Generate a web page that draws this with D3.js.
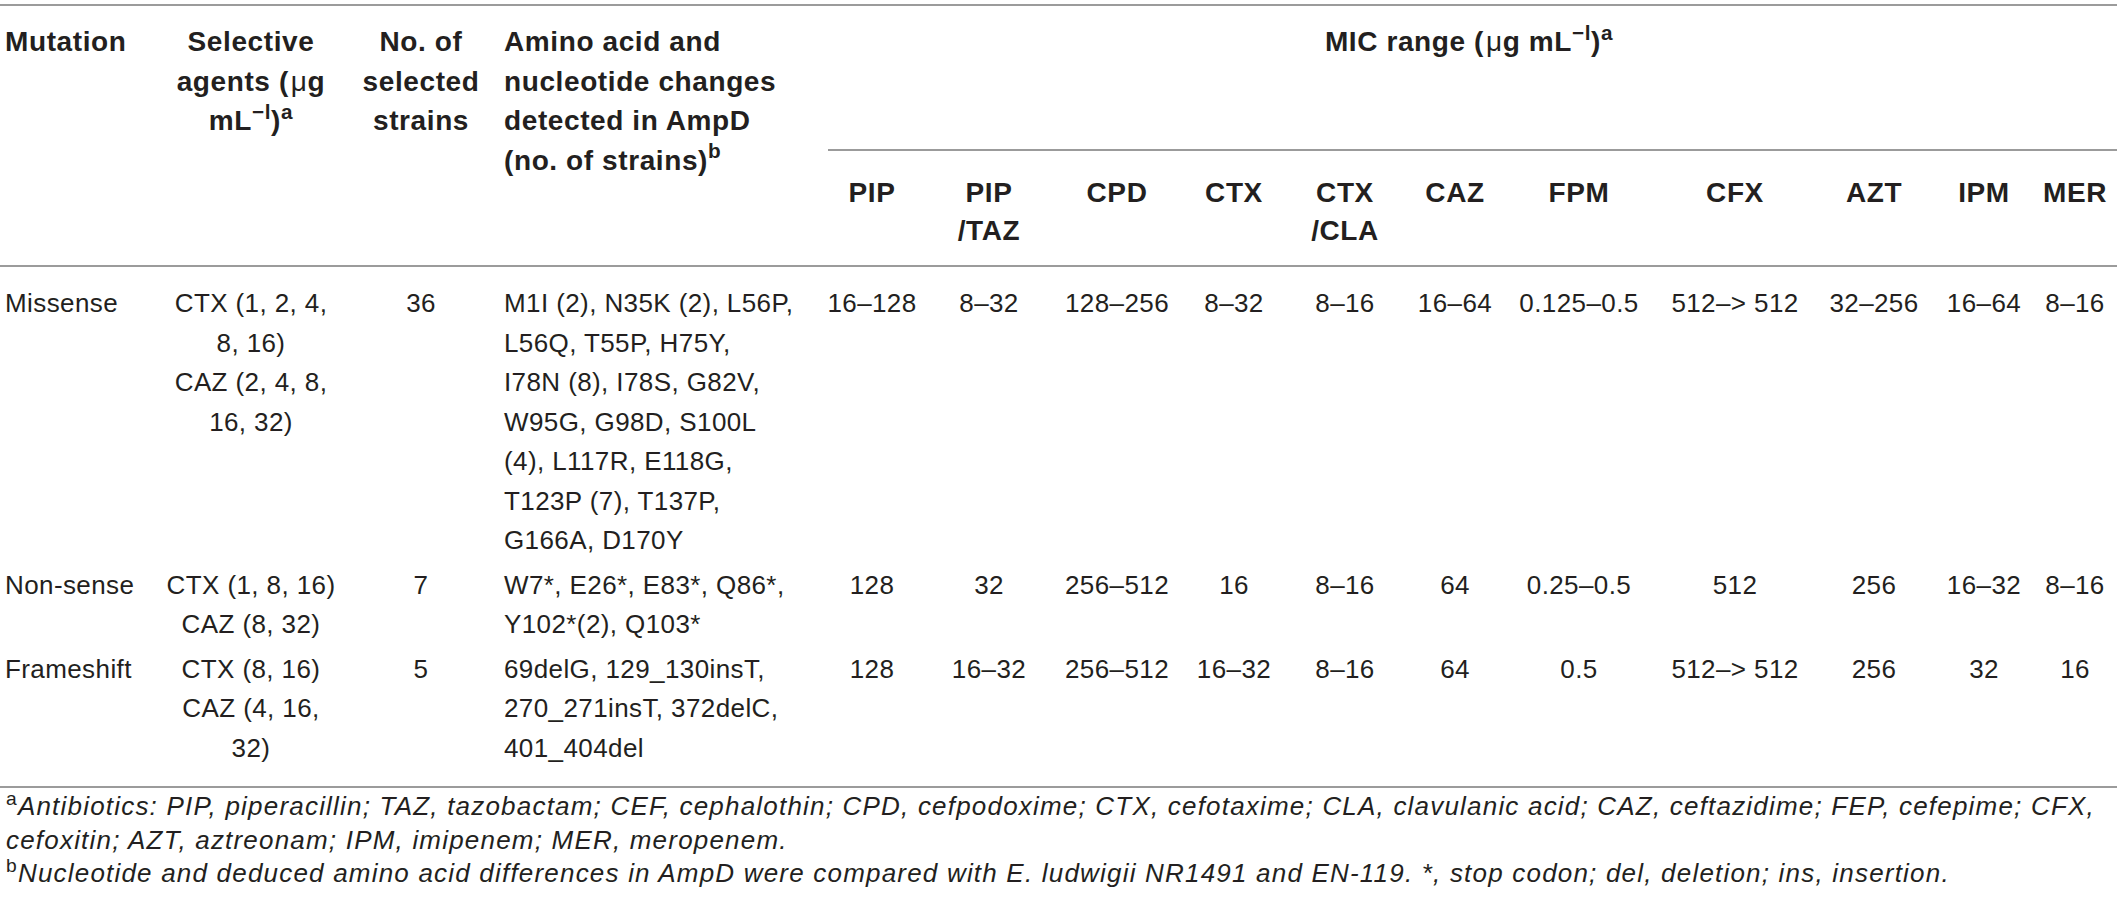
<!DOCTYPE html>
<html>
<head>
<meta charset="utf-8">
<script src="https://cdn.jsdelivr.net/npm/d3@7"></script>
<style>
    body { margin: 0; background: #fff; }
    svg { display: block; }
    text { font-family: "Liberation Sans", Arial, sans-serif; fill: #231f20; }
</style>
</head>
<body>
<svg id="table"></svg>
<script>
// ---- table content ----
const mutations = ["Missense", "Non-sense", "Frameshift"];
const selectiveAgents = [
    ["CTX (1, 2, 4,", "8, 16)", "CAZ (2, 4, 8,", "16, 32)"],
    ["CTX (1, 8, 16)", "CAZ (8, 32)"],
    ["CTX (8, 16)", "CAZ (4, 16,", "32)"]
];
const strainCounts = ["36", "7", "5"];
const aminoChanges = [
    ["M1I (2), N35K (2), L56P,", "L56Q, T55P, H75Y,", "I78N (8), I78S, G82V,", "W95G, G98D, S100L",
     "(4), L117R, E118G,", "T123P (7), T137P,", "G166A, D170Y"],
    ["W7*, E26*, E83*, Q86*,", "Y102*(2), Q103*"],
    ["69delG, 129_130insT,", "270_271insT, 372delC,", "401_404del"]
];
const micDrugs = ["PIP", "PIP/TAZ", "CPD", "CTX", "CTX/CLA", "CAZ", "FPM", "CFX", "AZT", "IPM", "MER"];
const micDrugLabels = [["PIP"], ["PIP", "/TAZ"], ["CPD"], ["CTX"], ["CTX", "/CLA"], ["CAZ"], ["FPM"], ["CFX"], ["AZT"], ["IPM"], ["MER"]];
const micRanges = [
    ["16–128", "8–32", "128–256", "8–32", "8–16", "16–64", "0.125–0.5", "512–> 512", "32–256", "16–64", "8–16"],
    ["128", "32", "256–512", "16", "8–16", "64", "0.25–0.5", "512", "256", "16–32", "8–16"],
    ["128", "16–32", "256–512", "16–32", "8–16", "64", "0.5", "512–> 512", "256", "32", "16"]
];
// ~{...} = light (non-bold) glyph, ^{...} = superscript
const headMutation = ["Mutation"];
const headAgents = ["Selective", "agents (~{μ}g", "mL^{−l})^{a}"];
const headStrains = ["No. of", "selected", "strains"];
const headAmino = ["Amino acid and", "nucleotide changes", "detected in AmpD", "(no. of strains)^{b}"];
const headMic = "MIC range (~{μ}g mL^{−l})^{a}";
const footnotes = [
    "^{a}Antibiotics: PIP, piperacillin; TAZ, tazobactam; CEF, cephalothin; CPD, cefpodoxime; CTX, cefotaxime; CLA, clavulanic acid; CAZ, ceftazidime; FEP, cefepime; CFX,",
    "cefoxitin; AZT, aztreonam; IPM, imipenem; MER, meropenem.",
    "^{b}Nucleotide and deduced amino acid differences in AmpD were compared with E. ludwigii NR1491 and EN-119. *, stop codon; del, deletion; ins, insertion."
];

// ---- layout ----
const width = 2117, height = 911;
const bodySize = 26, headSize = 28, noteSize = 26;
const bodySpacing = 0.4, headSpacing = 0.6, noteSpacing = 1.2;
const lineH = 39.5;
const ruleColor = "#9b9b9b";

const svg = d3.select("#table")
    .attr("width", width)
    .attr("height", height);

svg.append("rect").attr("width", width).attr("height", height).attr("fill", "#fff");

// column positions
const colX = d3.scaleOrdinal()
    .domain(["mutation", "agents", "strains", "amino", "mic"])
    .range([5, 251, 421, 504, 1469]);
const micX = d3.scaleOrdinal()
    .domain(micDrugs)
    .range([872, 989, 1117, 1234, 1345, 1455, 1579, 1735, 1874, 1984, 2075]);

// vertical positions: header lines and body lines
const headY = d3.scaleLinear().domain([0, 1]).range([51, 51 + lineH]);
const drugY = d3.scaleLinear().domain([0, 1]).range([202, 240]);
const rowGap = 5;
const rowStart = [];
aminoChanges.reduce((acc, lines, i) => { rowStart.push(acc + i * rowGap); return acc + lines.length * lineH; }, 0);
const bodyY = (row, line) => 312 + rowStart[row] + line * lineH;

// write text with ^{...} superscripts and ~{...} light glyphs
function rich(sel, str, size, italicBase) {
    const parts = str.split(/(\^\{[^}]*\}|~\{[^}]*\})/).filter(p => p.length);
    let up = false;
    parts.forEach(p => {
        const sup = p.match(/^\^\{(.*)\}$/);
        const light = p.match(/^~\{(.*)\}$/);
        const t = sel.append("tspan");
        if (sup) {
            t.attr("font-size", size * 0.74).attr("dy", up ? 0 : -size * 0.4).text(sup[1]);
            up = true;
            return;
        }
        t.attr("font-size", size).attr("dy", up ? size * 0.4 : 0).text(light ? light[1] : p);
        if (light) t.attr("font-weight", "normal").attr("dx", 2);
        if (italicBase) t.attr("font-style", "italic");
        up = false;
    });
}

function block(lines, x, yFn, anchor, size, weight, spacing) {
    lines.forEach((ln, i) => {
        const t = svg.append("text")
            .attr("x", x).attr("y", yFn(i))
            .attr("text-anchor", anchor)
            .attr("font-weight", weight)
            .attr("letter-spacing", spacing);
        rich(t, ln, size, false);
    });
}

// rules
const rule = (x1, x2, y) => svg.append("line")
    .attr("x1", x1).attr("x2", x2).attr("y1", y).attr("y2", y)
    .attr("stroke", ruleColor).attr("stroke-width", 2);
rule(0, width, 5);
rule(828, width, 150);
rule(0, width, 266);
rule(0, width, 787);

// header
block(headMutation, colX("mutation"), headY, "start", headSize, "bold", headSpacing);
block(headAgents, colX("agents"), headY, "middle", headSize, "bold", headSpacing);
block(headStrains, colX("strains"), headY, "middle", headSize, "bold", headSpacing);
block(headAmino, colX("amino"), headY, "start", headSize, "bold", headSpacing);
block([headMic], colX("mic"), headY, "middle", headSize, "bold", headSpacing);
micDrugs.forEach((d, i) => block(micDrugLabels[i], micX(d), drugY, "middle", headSize, "bold", headSpacing));

// body
mutations.forEach((m, r) => {
    const y = i => bodyY(r, i);
    block([m], colX("mutation"), y, "start", bodySize, "normal", bodySpacing);
    block(selectiveAgents[r], colX("agents"), y, "middle", bodySize, "normal", bodySpacing);
    block([strainCounts[r]], colX("strains"), y, "middle", bodySize, "normal", bodySpacing);
    block(aminoChanges[r], colX("amino"), y, "start", bodySize, "normal", bodySpacing);
    micDrugs.forEach((d, c) => block([micRanges[r][c]], micX(d), y, "middle", bodySize, "normal", bodySpacing));
});

// footnotes
const noteY = [815, 849, 882];
footnotes.forEach((f, i) => {
    const t = svg.append("text").attr("x", 6).attr("y", noteY[i]).attr("letter-spacing", noteSpacing);
    rich(t, f, noteSize, true);
});
</script>
</body>
</html>
